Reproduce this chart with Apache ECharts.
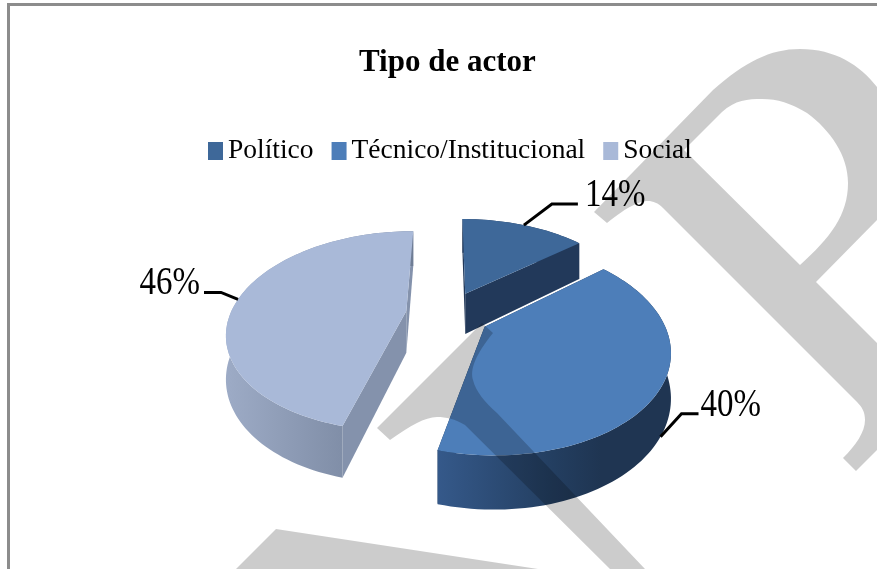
<!DOCTYPE html>
<html>
<head>
<meta charset="utf-8">
<style>html,body{margin:0;padding:0;background:#fff}#c{width:877px;height:569px}</style>
<script src="https://cdn.jsdelivr.net/npm/echarts@6/dist/echarts.min.js"></script>
</head>
<body>
<div id="c"></div>
<script>
var chartTitle = 'Tipo de actor';
var categories = ['Político', 'Técnico/Institucional', 'Social'];
var values = [14, 40, 46];

var topColors = ['#3e6899', '#4d7eb9', '#a9b9d8'];
var radialWallColors = ['#22395a', '#1f3552', '#8492ac'];
var arcWallStops = [
  [[0, '#22395a'], [1, '#22395a']],
  [[0, '#35598a'], [0.5, '#233e60'], [0.7, '#1f3552'], [1, '#1f3552']],
  [[0, '#9dabc6'], [1, '#6f7d95']]
];
var stackOrder = [2, 4, 3];
var leaderOffsets = [
  { elbow: [28, -21], end: [54, -21], text: [61, -30], align: 'left', from: 'top' },
  { elbow: [21, -23], end: [38, -23], text: [40, -31], align: 'left', from: 'bottom' },
  { elbow: [-17, -7], end: [-34, -7], text: [-38, -16], align: 'right', from: 'top' }
];

var centre = [448, 314];
var radiusX = 176, radiusY = 97, perspective = 0.2, explode = 0.24, depth = 42;
var textStretch = 1.2;

var total = values.reduce(function (a, b) { return a + b; }, 0);

function project(u, v, lifted) {
  var s = 1 / (1 + perspective * v);
  return [centre[0] + radiusX * u * s, centre[1] - radiusY * v * s + (lifted ? 0 : depth * s)];
}

function makeRender(index) {
  return function (params, api) {
    var before = 0;
    for (var i = 0; i < index; i++) before += values[i];
    var a0 = before / total * 2 * Math.PI;
    var a1 = (before + api.value(0)) / total * 2 * Math.PI;
    var mid = (a0 + a1) / 2;
    var ox = explode * Math.sin(mid), oy = explode * Math.cos(mid);
    var topArc = [], lowArc = [];
    var n = Math.max(8, Math.round((a1 - a0) / 0.03));
    for (var k = 0; k <= n; k++) {
      var a = a0 + (a1 - a0) * k / n;
      var u = ox + Math.sin(a), v = oy + Math.cos(a);
      topArc.push(project(u, v, true));
      lowArc.push(project(u, v, false));
    }
    var apexTop = project(ox, oy, true), apexLow = project(ox, oy, false);
    var fillRadial = radialWallColors[index];
    var children = [];
    function poly(points, fill) {
      children.push({ type: 'polygon', shape: { points: points }, style: { fill: fill, stroke: null } });
    }
    poly([apexTop, topArc[n], lowArc[n], apexLow], fillRadial);
    poly([apexTop, topArc[0], lowArc[0], apexLow], fillRadial);
    var stops = arcWallStops[index].map(function (s) { return { offset: s[0], color: s[1] }; });
    poly(topArc.concat(lowArc.slice().reverse()), new echarts.graphic.LinearGradient(0, 0, 1, 0, stops));
    poly([apexTop].concat(topArc), topColors[index]);

    var lo = leaderOffsets[index];
    var mu = ox + Math.sin(mid), mv = oy + Math.cos(mid);
    var start = project(mu, mv, lo.from === 'top');
    children.push({
      type: 'polyline',
      shape: { points: [start, [start[0] + lo.elbow[0], start[1] + lo.elbow[1]], [start[0] + lo.end[0], start[1] + lo.end[1]]] },
      style: { stroke: '#000', lineWidth: 3, fill: null }
    });
    children.push({
      type: 'text',
      x: start[0] + lo.text[0], y: start[1] + lo.text[1],
      scaleY: textStretch,
      style: {
        text: Math.round(api.value(0) / total * 100) + '%',
        fontFamily: 'Liberation Serif', fontSize: 33, fill: '#000',
        textAlign: lo.align, textVerticalAlign: 'middle'
      }
    });
    return { type: 'group', children: children };
  };
}

var series = categories.map(function (name, i) {
  return {
    type: 'custom', name: name, coordinateSystem: 'none', z: stackOrder[i],
    itemStyle: { color: topColors[i] },
    renderItem: makeRender(i), data: [[values[i]]], silent: true
  };
});

var markWatermark = [
  'M594,212 L713,90 C745,62 770,49 800,49 C835,49 860,65 877,87 L877,220 L816,282 L877,343 L877,450 L856,471 L843,458 C856,445 865,432 865,420 C865,412 862,407 857,402 L663,208 C658,203 653,201 648,201 C640,201 628,206 607,223 Z',
  'M684,150 L800,265 C830,238 848,215 848,183 C848,155 830,130 807,113 C790,103 778,99 762,99 C748,99 735,100 722,112 Z',
  'M377,428 L482,323 L493,333 C475,355 470,370 473,380 C476,392 485,402 497,413 L645,569 L610,569 L465,425 C455,419 446,417 437,417 C425,417 410,426 390,440 Z',
  'M276,529 L236,569 L538,569 Z'
].join(' ');

series.push({
  type: 'custom', name: 'marca de agua', coordinateSystem: 'none', z: 50, silent: true,
  data: [[0]],
  renderItem: function () {
    return {
      type: 'path',
      shape: { pathData: markWatermark, x: 236, y: 49, width: 641, height: 520, layout: 'cover' },
      style: { fill: 'rgba(0,0,0,0.2)' }
    };
  }
});

var chart = echarts.init(document.getElementById('c'), null, { renderer: 'canvas' });
chart.setOption({
  animation: false,
  backgroundColor: '#ffffff',
  title: {
    text: chartTitle, left: 359, top: 47, padding: 0,
    textStyle: { fontFamily: 'Liberation Serif', fontWeight: 'bold', fontSize: 31, color: '#000' }
  },
  legend: {
    data: categories, left: 208, top: 137, padding: 0, icon: 'rect',
    itemWidth: 15, itemHeight: 18, itemGap: 18, selectedMode: false,
    textStyle: { fontFamily: 'Liberation Serif', fontSize: 27.5, color: '#000' }
  },
  graphic: [
    { type: 'polyline', z: 0, silent: true, shape: { points: [[8.5, 569], [8.5, 4.5], [877, 4.5]] }, style: { stroke: '#8c8c8c', lineWidth: 3, fill: null } }
  ],
  series: series
});
</script>
</body>
</html>
